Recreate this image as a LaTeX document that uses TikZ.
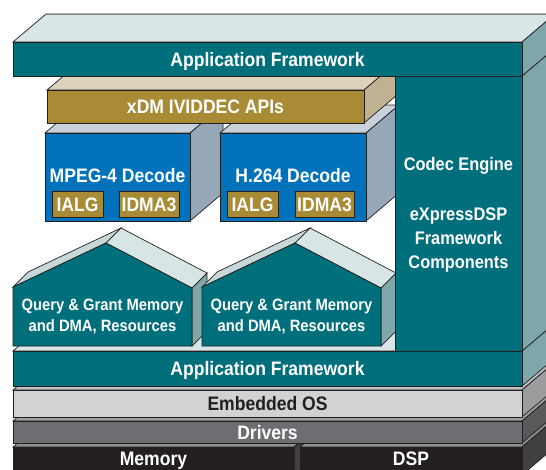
\documentclass[tikz,border=0pt]{standalone}
\usepackage{fontspec}
\newfontfamily\lab{Liberation Sans}[FakeStretch=0.9]
\definecolor{edgec}{HTML}{231F20}
\definecolor{tealf}{HTML}{006F7C}
\definecolor{tealt}{HTML}{D8E6E7}
\definecolor{teals}{HTML}{7FA7AB}
\definecolor{roofl}{HTML}{C8D7D8}
\definecolor{roofr}{HTML}{D8E5E5}
\definecolor{olivef}{HTML}{A88B34}
\definecolor{olivet}{HTML}{DCD3BA}
\definecolor{olives}{HTML}{BFB290}
\definecolor{bluef}{HTML}{0071BB}
\definecolor{bluet}{HTML}{C9D1DA}
\definecolor{blues}{HTML}{96A8B7}
\definecolor{eosf}{HTML}{D1D2D4}
\definecolor{eost}{HTML}{BDBEC0}
\definecolor{eoss}{HTML}{9C9C9F}
\definecolor{drvf}{HTML}{6D6E71}
\definecolor{drvt}{HTML}{9E9FA1}
\definecolor{drvs}{HTML}{58595B}
\definecolor{memf}{HTML}{231F20}
\definecolor{memt}{HTML}{8E8F91}
\definecolor{mems}{HTML}{404042}
\newcommand{\mycube}[9]{%
  \filldraw[edge, fill=#8] (#1,#2) -- (#1+#5,#2-#6) -- (#3+#5,#2-#6) -- (#3,#2) -- cycle;
  \filldraw[edge, fill=#9] (#3,#2) -- (#3+#5,#2-#6) -- (#3+#5,#4-#6) -- (#3,#4) -- cycle;
  \filldraw[edge, fill=#7] (#1,#2) rectangle (#3,#4);
}
\newcommand{\myhouse}[2]{%
  \begin{scope}[xshift=#1pt]
  \filldraw[edge, fill=roofl] (13,287) -- (28,272) -- (121,228) -- (106,243) -- cycle;
  \filldraw[edge, fill=roofr] (106,243) -- (121,228) -- (207,273) -- (192,288) -- cycle;
  \filldraw[edge, fill=teals] (192,288) -- (207,273) -- (207,331) -- (192,346) -- cycle;
  \filldraw[edge, fill=tealf] (13,287) -- (106,243) -- (192,288) -- (192,346) -- (13,346) -- cycle;
  \node[qlbl] (#2a) at (102.5,310.7) {Query \& Grant Memory};
  \node[qlbl] (#2b) at (102.5,331.7) {and DMA, Resources};
  \end{scope}
}
\tikzset{
  edge/.style={draw=edgec, line width=0.7pt},
  lbl/.style={text=white, font=\lab\bfseries\fontsize{19.5}{22}\selectfont, anchor=base, inner sep=0pt},
  qlbl/.style={lbl, font=\lab\bfseries\fontsize{16.4}{19}\selectfont},
  clbl/.style={lbl, font=\lab\bfseries\fontsize{18.2}{21}\selectfont},
  smallbox/.style={edge, fill=olivef}
}
\begin{document}
\begin{tikzpicture}[x=1pt,y=-1pt, line join=miter]
\useasboundingbox (0,0) rectangle (546,469);
\clip (0,0) rectangle (546,469);
% bottom stack
\mycube{13}{447}{294}{475}{33}{28}{memf}{memt}{mems}
\mycube{300}{447}{522}{475}{33}{28}{memf}{memt}{mems}
\mycube{13}{421}{522}{443}{33}{28}{drvf}{drvt}{drvs}
\mycube{13}{390}{522}{417}{33}{28}{eosf}{eost}{eoss}
\mycube{13}{351}{522}{386}{33}{28}{tealf}{tealt}{teals}
\node[lbl] (mem) at (153.5,465.5) {Memory};
\node[lbl] (dsp) at (411,465.5) {DSP};
\node[lbl] (drv) at (267.5,439) {Drivers};
\node[lbl, text=edgec] (eos) at (267.5,410.5) {Embedded OS};
\node[lbl] (afb) at (267.5,375.5) {Application Framework};
% houses
\myhouse{0}{qa}
\myhouse{189}{qb}
% codec boxes
\mycube{45}{133}{190}{221}{33}{28}{bluef}{bluet}{blues}
\mycube{220}{133}{366}{221}{33}{28}{bluef}{bluet}{blues}
\node[lbl] (mpeg) at (117.5,182.7) {MPEG-4 Decode};
\node[lbl] (h264) at (293,182.7) {H.264 Decode};
\filldraw[smallbox] (52,191) rectangle (103,217);
\filldraw[smallbox] (119,191) rectangle (179,217);
\filldraw[smallbox] (227,191) rectangle (278,217);
\filldraw[smallbox] (295,191) rectangle (354,217);
\node[lbl] (ialga) at (77.5,211) {IALG};
\node[lbl] (idmaa) at (149,211) {IDMA3};
\node[lbl] (ialgb) at (252.5,211) {IALG};
\node[lbl] (idmab) at (324.5,211) {IDMA3};
% xDM
\mycube{47}{90}{364}{123}{33}{28}{olivef}{olivet}{olives}
\node[lbl] (xdm) at (205.5,113.3) {xDM IVIDDEC APIs};
% column
\mycube{395}{76}{522}{351}{33}{28}{tealf}{tealt}{teals}
\node[clbl] (ce) at (458.5,170.7) {Codec Engine};
\node[clbl] (xp) at (458.5,220) {eXpressDSP};
\node[clbl] (fw) at (458.5,244) {Framework};
\node[clbl] (cp) at (458.5,268) {Components};
% top application framework
\mycube{13}{42}{522}{76}{33}{28}{tealf}{tealt}{teals}
\draw[draw=gray, line width=1pt] (46,14) -- (555,14);
\node[lbl] (aft) at (267.5,66) {Application Framework};
\end{tikzpicture}
\end{document}
